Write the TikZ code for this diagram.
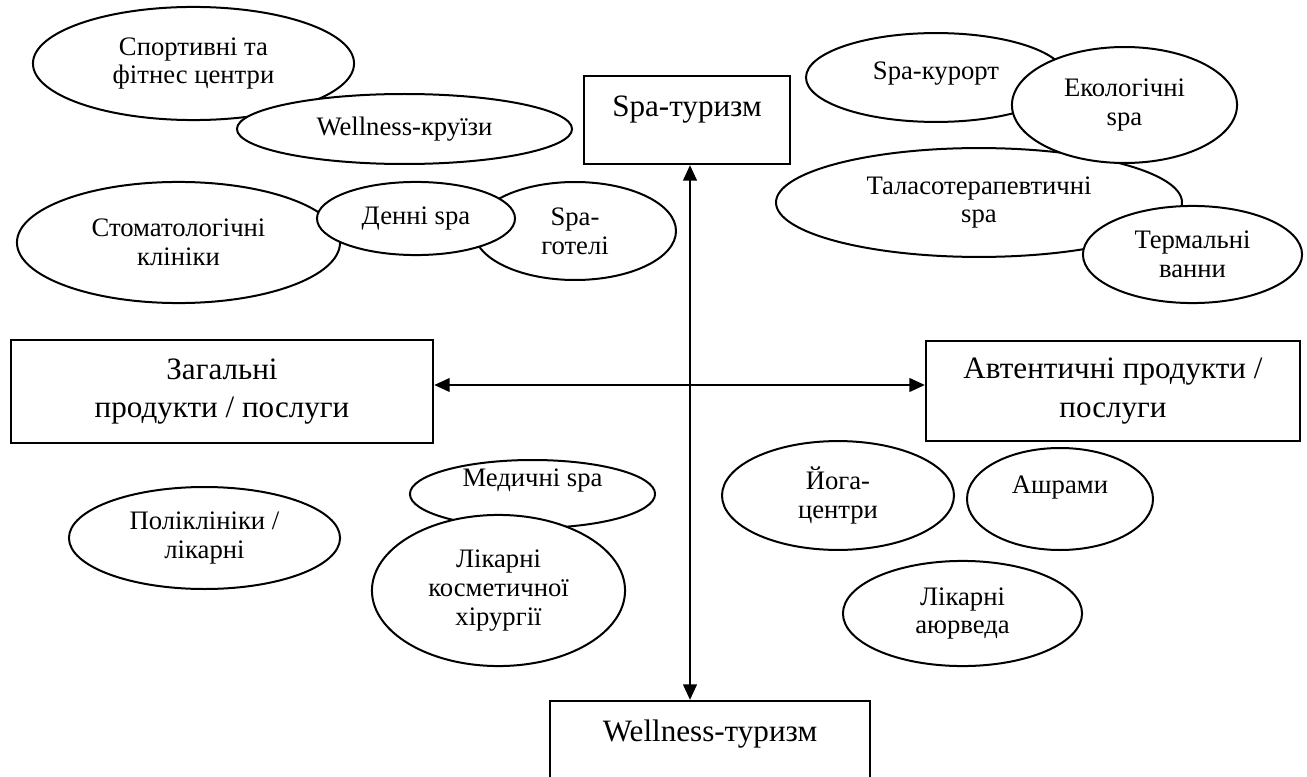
\documentclass[tikz,border=0pt]{standalone}
\usepackage{fontspec}
\setmainfont{Liberation Serif}
\usetikzlibrary{shapes.geometric, arrows.meta}

\newcommand{\up}[2]{\raisebox{#1}[\height][\depth]{#2}}

\begin{document}
\begin{tikzpicture}[x=0.45pt, y=-0.45pt,
  oval/.style={ellipse, draw, fill=white, line width=0.9pt, inner sep=0pt, align=center, font=\fontsize{12}{13}\selectfont},
  box/.style={rectangle, draw, fill=white, line width=0.9pt, inner sep=0pt, align=center, font=\fontsize{14}{17.5}\selectfont},
  arr/.style={line width=1.3pt, -{Triangle[length=7pt, width=6pt]}}]
\clip (0,0) rectangle (1307,777);

% main boxes
\node[box, minimum width=92.7pt, text height=18.45pt, text depth=21.15pt] (spa) at (687,120) {Spa-туризм};
\node[box, minimum width=144pt, text height=18pt, text depth=21.6pt] (well) at (710,745) {Wellness-туризм};
\node[box, minimum width=190pt, minimum height=46.35pt] (gen) at (222,391.5) {Загальні\\продукти / послуги};
\node[box, minimum width=168.3pt, minimum height=45pt] (auth) at (1113,391) {Автентичні продукти /\\послуги};

% top left
\node[oval, minimum width=144.5pt, minimum height=50.9pt] (sport) at (193.5,63.5) {Спортивні та\\фітнес центри};
\node[oval, minimum width=150.8pt, minimum height=31.5pt] (cruise) at (404.5,129) {Wellness-круїзи};
\node[oval, minimum width=90.9pt, minimum height=44.1pt] (hotel) at (575,231) {Spa-\\готелі};
\node[oval, minimum width=145.4pt, minimum height=54.5pt] (dental) at (178.5,242.5) {Стоматологічні\\клініки};
\node[oval, minimum width=89.1pt, minimum height=32.9pt] (dayspa) at (416,218.5) {Денні spa};

% top right
\node[oval, minimum width=117pt, minimum height=40pt] (resort) at (936,77.5) {\up{2pt}{Spa-курорт}};
\node[oval, minimum width=182.7pt, minimum height=49pt] (thalasso) at (979,202.5) {Таласотерапевтичні\\spa};
\node[oval, minimum width=101.3pt, minimum height=52.2pt] (eco) at (1124.5,105) {Екологічні\\spa};
\node[oval, minimum width=98.6pt, minimum height=43.7pt] (thermal) at (1192.5,254.5) {Термальні\\ванни};

% bottom left
\node[oval, minimum width=122pt, minimum height=45.9pt] (clinic) at (204.5,538) {Поліклініки /\\лікарні};
\node[oval, minimum width=110.3pt, minimum height=30.6pt] (medspa) at (532.5,494) {\up{6pt}{Медичні spa}};
\node[oval, minimum width=113.9pt, minimum height=68pt] (cosmetic) at (498.5,590.5) {Лікарні\\косметичної\\хірургії};

% bottom right
\node[oval, minimum width=104.4pt, minimum height=49pt] (yoga) at (838,495.5) {Йога-\\центри};
\node[oval, minimum width=83.7pt, minimum height=45.9pt] (ashram) at (1060,499) {\up{5pt}{Ашрами}};
\node[oval, minimum width=107.6pt, minimum height=47.3pt] (ayur) at (962.5,613.5) {Лікарні\\аюрведа};

\coordinate (hub) at (690,385);
\draw[arr] (hub) -- (hub |- spa.south);
\draw[arr] (hub) -- (hub |- well.north);
\draw[arr] (hub) -- (hub -| gen.east);
\draw[arr] (hub) -- (hub -| auth.west);

\end{tikzpicture}
\end{document}
